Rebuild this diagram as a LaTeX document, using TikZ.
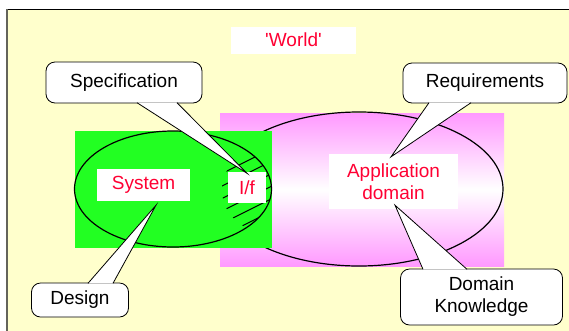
\documentclass[tikz,border=0pt]{standalone}
\usepackage{fontspec}
\setmainfont{Liberation Sans}
\usetikzlibrary{calc}

\definecolor{paper}{RGB}{255,255,204}
\definecolor{sysgreen}{RGB}{34,255,34}
\definecolor{domainpink}{RGB}{255,153,255}
\definecolor{labelred}{RGB}{255,0,51}
\definecolor{edgegray}{RGB}{100,100,90}

\tikzset{
  lbl/.style={fill=white, text=labelred, inner sep=0pt,
    font=\fontsize{19}{22}\selectfont, align=center},
  bubble/.style={draw=black, line width=0.8pt, fill=white, rounded corners=9pt,
    inner sep=0pt, font=\fontsize{19}{22}\selectfont, align=center},
  ring/.style={draw=black, line width=1.2pt},
  hatchline/.style={draw=black, line width=1.1pt},
  tailedge/.style={draw=black, line width=0.8pt, line join=miter},
}

% tail of a speech bubble: base point, tip, base point
\newcommand\bubbletail[3]{%
  \fill[white] #1 -- #2 -- #3 -- cycle;
  \draw[tailedge] #1 -- #2 -- #3;
}

\begin{document}
\begin{tikzpicture}[x=1pt, y=-1pt]
  \useasboundingbox (0,0) rectangle (569,330);

  % the world
  \fill[paper] (7,9) rectangle (571,332);
  \draw[black, line width=1pt] (6,9) -- (571,9);
  \draw[edgegray, line width=1.5pt] (6.8,9) -- (6.8,332);

  \node[lbl, minimum width=125pt, minimum height=27pt] (world) at (293.5,40) {\textquotesingle World\textquotesingle};

  % application domain
  \shade[top color=domainpink, bottom color=domainpink, middle color=white]
    (220,113) rectangle (504,266);
  \draw[ring] (359,189) ellipse [x radius=144, y radius=77];

  % the system
  \fill[sysgreen] (75,131) rectangle (272,248);
  \draw[ring] (173,189) ellipse [x radius=98.5, y radius=58];

  % hatched interface band
  \begin{scope}
    \clip (173,189) ellipse [x radius=98.5, y radius=58];
    \clip (266,190) ellipse [x radius=44, y radius=42];
    \foreach \c in {136,148.5,...,270} {
      \draw[hatchline] (210,{\c+6}) -- (290,{\c-34});
    }
  \end{scope}

  % labels
  \node[lbl, minimum width=93pt, minimum height=32pt] (sys) at (143.5,185) {System};
  \node[lbl, minimum width=38pt, minimum height=31pt] (iface) at (247,187.5) {I/f};
  \node[lbl, minimum width=129pt, minimum height=55pt] (app) at (393.5,181.5) {Application\\domain};

  % speech bubbles
  \node[bubble, minimum width=156pt, minimum height=41pt] (spec) at (124,82.5) {Specification};
  \node[bubble, minimum width=164pt, minimum height=40pt] (req) at (485,83) {Requirements};
  \node[bubble, minimum width=97pt, minimum height=34pt] (design) at (80,300) {Design};
  \node[bubble, minimum width=162pt, minimum height=56pt] (dk) at (481.5,297) {Domain\\Knowledge};

  \coordinate (specTip) at ($(iface.north)+(0,1.5)$);
  \coordinate (reqTip) at ($(app.north)+(-2.5,3)$);
  \coordinate (designTip) at ($(sys.south)+(12.5,4)$);
  \coordinate (dkTip) at ($(app.south)+(1.5,-4)$);

  \bubbletail{($(spec.south)+(13,-0.7)$)}{(specTip)}{($(spec.south)+(53,-0.7)$)}
  \bubbletail{($(req.south)+(-56,-0.7)$)}{(reqTip)}{($(req.south)+(-14,-0.7)$)}
  \bubbletail{($(design.north)+(8,0.7)$)}{(designTip)}{($(design.north)+(33,0.7)$)}
  \bubbletail{($(dk.north)+(-58.5,0.7)$)}{(dkTip)}{($(dk.north)+(-14.5,0.7)$)}
\end{tikzpicture}
\end{document}
